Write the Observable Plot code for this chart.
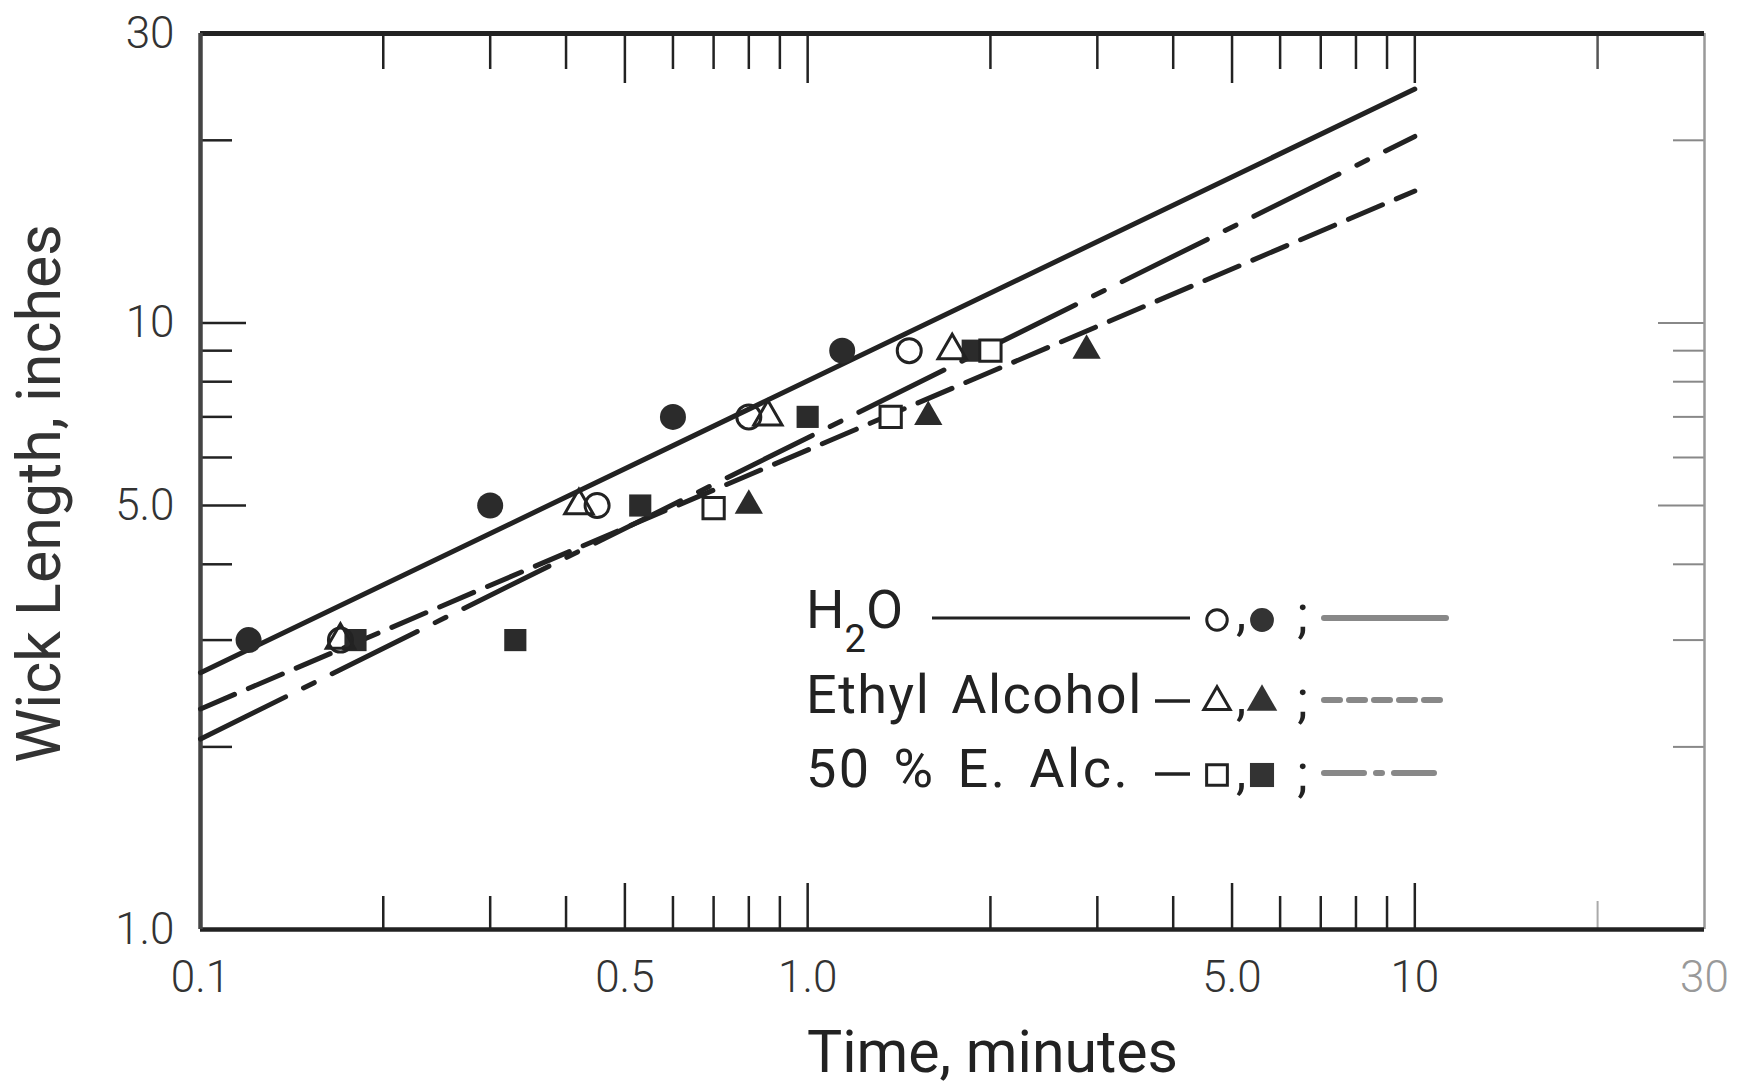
<!DOCTYPE html>
<html>
<head>
<meta charset="utf-8">
<script src="https://cdn.jsdelivr.net/npm/d3@7"></script>
<script src="https://cdn.jsdelivr.net/npm/@observablehq/plot@0.6"></script>
<style>
  html, body { margin: 0; padding: 0; background: #fff; }
  #wrap { position: relative; width: 1738px; height: 1087px; overflow: hidden; }
  #wrap svg { position: absolute; left: 0; top: 0; }
</style>
</head>
<body>
<div id="wrap"></div>
<script>
// ---------------- data ----------------
const lineTime = [0.1, 10];
const h2oFit   = [2.65, 24.3];
const ethylFit = [2.31, 16.5];
const alcFit   = [2.06, 20.3];

const h2oOpenT    = [0.17, 0.45, 0.80, 1.47];
const h2oOpenL    = [3.0, 5.0, 7.0, 9.0];
const h2oFilledT  = [0.12, 0.30, 0.60, 1.14];
const h2oFilledL  = [3.0, 5.0, 7.0, 9.0];
const ethylOpenT  = [0.17, 0.42, 0.86, 1.73];
const ethylOpenL  = [3.0, 5.0, 7.0, 9.0];
const ethylFilledT = [0.80, 1.58, 2.88];
const ethylFilledL = [5.0, 7.0, 9.0];
const alcOpenT    = [0.70, 1.37, 2.0];
const alcOpenL    = [4.95, 7.0, 9.0];
const alcFilledT  = [0.18, 0.33, 0.53, 1.0, 1.87];
const alcFilledL  = [3.0, 3.0, 5.0, 7.0, 9.0];

const xTickValues = [0.1, 0.5, 1, 5, 10, 30];
const xTickLabels = ["0.1", "0.5", "1.0", "5.0", "10", "30"];
const yTickValues = [1, 5, 10, 30];
const yTickLabels = ["1.0", "5.0", "10", "30"];
const xMinor = [0.2, 0.3, 0.4, 0.6, 0.7, 0.8, 0.9, 2, 3, 4, 6, 7, 8, 9];
const xMajor = [0.5, 1, 5, 10];
const xFar   = [20];
const yMinor = [2, 3, 4, 6, 7, 8, 9, 20];
const yMajor = [5, 10];

const legendLabels  = ["H2O", "Ethyl Alcohol", "50 % E. Alc."];
const legendSymbols = ["circle", "triangle", "square"];

// ---------------- layout / style ----------------
const W = 1738, H = 1087;
const M = {left: 200, right: 34, top: 33, bottom: 158};
const plotW = W - M.left - M.right;
const plotH = H - M.top - M.bottom;
const ink = "#222";
const font = "Roboto, 'Noto Sans', sans-serif";
const dashEthyl = "37,15";
const dashAlc = "95,20,12,20";

const pts = (ts, ls) => ts.map((t, i) => ({t, l: ls[i]}));
const fits = lineTime.map((t, i) => ({t, h2o: h2oFit[i], ethyl: ethylFit[i], alc: alcFit[i]}));
const xLab = d => xTickLabels[xTickValues.indexOf(d)];
const yLab = d => yTickLabels[yTickValues.indexOf(d)];

const chart = Plot.plot({
  width: W, height: H,
  marginLeft: M.left, marginRight: M.right, marginTop: M.top, marginBottom: M.bottom,
  style: {fontFamily: font, background: "white", overflow: "visible"},
  x: {type: "log", domain: [0.1, 30], axis: null},
  y: {type: "log", domain: [1, 30], axis: null},
  marks: [
    // inward ticks: bottom
    Plot.tickX(xMinor, {x: d => d, insetTop: plotH - 33, stroke: ink, strokeWidth: 2.5}),
    Plot.tickX(xMajor, {x: d => d, insetTop: plotH - 46, stroke: ink, strokeWidth: 2.5}),
    Plot.tickX(xFar, {x: d => d, insetTop: plotH - 28, stroke: "#aaa", strokeWidth: 2}),
    // top
    Plot.tickX(xMinor, {x: d => d, insetBottom: plotH - 36, stroke: ink, strokeWidth: 2.5}),
    Plot.tickX(xMajor, {x: d => d, insetBottom: plotH - 50, stroke: ink, strokeWidth: 2.5}),
    Plot.tickX(xFar, {x: d => d, insetBottom: plotH - 36, stroke: "#555", strokeWidth: 2.5}),
    // left
    Plot.tickY(yMinor, {y: d => d, insetRight: plotW - 32, stroke: ink, strokeWidth: 2.5}),
    Plot.tickY(yMajor, {y: d => d, insetRight: plotW - 46, stroke: ink, strokeWidth: 2.5}),
    // right
    Plot.tickY(yMinor, {y: d => d, insetLeft: plotW - 31, stroke: "#888", strokeWidth: 2}),
    Plot.tickY(yMajor, {y: d => d, insetLeft: plotW - 46, stroke: "#888", strokeWidth: 2}),
    // frame
    Plot.ruleX([30], {stroke: "#999", strokeWidth: 2.5}),
    Plot.ruleY([1], {stroke: ink, strokeWidth: 4.5}),
    Plot.ruleY([30], {stroke: ink, strokeWidth: 5}),
    Plot.ruleX([0.1], {stroke: "#444", strokeWidth: 4.5}),
    // fitted lines
    Plot.line(fits, {x: "t", y: "h2o", stroke: ink, strokeWidth: 5, strokeLinecap: "round"}),
    Plot.line(fits, {x: "t", y: "ethyl", stroke: ink, strokeWidth: 5, strokeLinecap: "round", strokeDasharray: dashEthyl}),
    Plot.line(fits, {x: "t", y: "alc", stroke: ink, strokeWidth: 5, strokeLinecap: "round", strokeDasharray: dashAlc}),
    // data points
    Plot.dot(pts(h2oFilledT, h2oFilledL), {x: "t", y: "l", r: 13, symbol: "circle", fill: "#2b2b2b"}),
    Plot.dot(pts(alcFilledT, alcFilledL), {x: "t", y: "l", r: 12.5, symbol: "square", fill: "#2b2b2b"}),
    Plot.dot(pts(ethylFilledT, ethylFilledL), {x: "t", y: "l", r: 10.5, symbol: "triangle", fill: "#2b2b2b"}),
    Plot.dot(pts(h2oOpenT, h2oOpenL), {x: "t", y: "l", r: 12, symbol: "circle", fill: "white", fillOpacity: 0, stroke: ink, strokeWidth: 3}),
    Plot.dot(pts(ethylOpenT, ethylOpenL), {x: "t", y: "l", r: 10.5, symbol: "triangle", fill: "white", fillOpacity: 0, stroke: ink, strokeWidth: 3}),
    Plot.dot(pts(alcOpenT, alcOpenL), {x: "t", y: "l", r: 12, symbol: "square", fill: "white", stroke: ink, strokeWidth: 3}),
    // tick labels
    Plot.text(xTickValues.filter(d => d < 30), {x: d => d, text: xLab, frameAnchor: "bottom", lineAnchor: "middle", dy: 48, fontSize: 44, fontWeight: 300, fill: "#333"}),
    Plot.text(xTickValues.filter(d => d === 30), {x: d => d, text: xLab, frameAnchor: "bottom", lineAnchor: "middle", dy: 48, fontSize: 44, fontWeight: 300, fill: "#999"}),
    Plot.text(yTickValues, {y: d => d, text: yLab, frameAnchor: "left", lineAnchor: "middle", dx: -26, textAnchor: "end", fontSize: 44, fontWeight: 300, fill: "#333"}),
    // axis titles
    Plot.text(["Time, minutes"], {frameAnchor: "bottom", textAnchor: "middle", lineAnchor: "middle", dx: 40, dy: 124, fontSize: 59, fill: "#222"}),
    Plot.text(["Wick Length, inches"], {frameAnchor: "left", textAnchor: "middle", lineAnchor: "middle", rotate: -90, dx: -160, dy: 12, fontSize: 61, fill: "#333"})
  ]
});
document.getElementById("wrap").appendChild(chart);

// ---------------- legend (inside plot area) ----------------
const leg = d3.select("#wrap").append("svg")
  .attr("width", W).attr("height", H)
  .style("pointer-events", "none");
const g = leg.append("g").attr("font-family", font).attr("fill", "#222");
const rowBase = [628, 713, 787];
const rowMid = [618, 700, 773];
const textX = 806;
const symOpenX = 1217, symFilledX = 1262, commaX = 1236, semiX = 1297;
const sampleX1 = 1324, sampleX2 = 1446;
const sampleDash = [null, "16,9", "40,12,6,12"];

legendLabels.forEach((label, i) => {
  const t = g.append("text").attr("x", textX).attr("y", rowBase[i]).attr("font-size", 54);
  if (label === "H2O") {
    t.append("tspan").text("H");
    t.append("tspan").attr("dy", 24).attr("font-size", 38).text("2");
    t.append("tspan").attr("dy", -24).text("O");
    g.append("line").attr("x1", 932).attr("x2", 1190).attr("y1", rowMid[i]).attr("y2", rowMid[i])
      .attr("stroke", ink).attr("stroke-width", 3);
  } else {
    t.attr("letter-spacing", i === 2 ? 2.5 : 1.5).attr("word-spacing", i === 2 ? 6 : 6).text(label);
    g.append("line").attr("x1", 1155).attr("x2", 1190).attr("y1", rowMid[i] + 1).attr("y2", rowMid[i] + 1)
      .attr("stroke", ink).attr("stroke-width", 3.5);
  }
  const type = legendSymbols[i];
  const sym = type === "circle" ? d3.symbolCircle : type === "triangle" ? d3.symbolTriangle : d3.symbolSquare;
  const sz = type === "circle" ? 330 : type === "triangle" ? 300 : 430;
  g.append("path").attr("d", d3.symbol(sym, sz)()).attr("transform", `translate(${symOpenX},${rowMid[i] + 2})`)
    .attr("fill", "white").attr("stroke", ink).attr("stroke-width", 3);
  g.append("path").attr("d", d3.symbol(sym, sz * 1.35)()).attr("transform", `translate(${symFilledX},${rowMid[i] + 2})`)
    .attr("fill", "#333");
  g.append("text").attr("x", commaX).attr("y", rowBase[i] + 2).attr("font-size", 52).text(",");
  g.append("text").attr("x", semiX).attr("y", rowBase[i] + 4).attr("font-size", 52).text(";");
  const s = g.append("line").attr("x1", sampleX1).attr("x2", sampleX2).attr("y1", rowMid[i]).attr("y2", rowMid[i])
    .attr("stroke", "#888").attr("stroke-width", 6).attr("stroke-linecap", "round");
  if (sampleDash[i]) s.attr("stroke-dasharray", sampleDash[i]);
});
</script>
</body>
</html>
